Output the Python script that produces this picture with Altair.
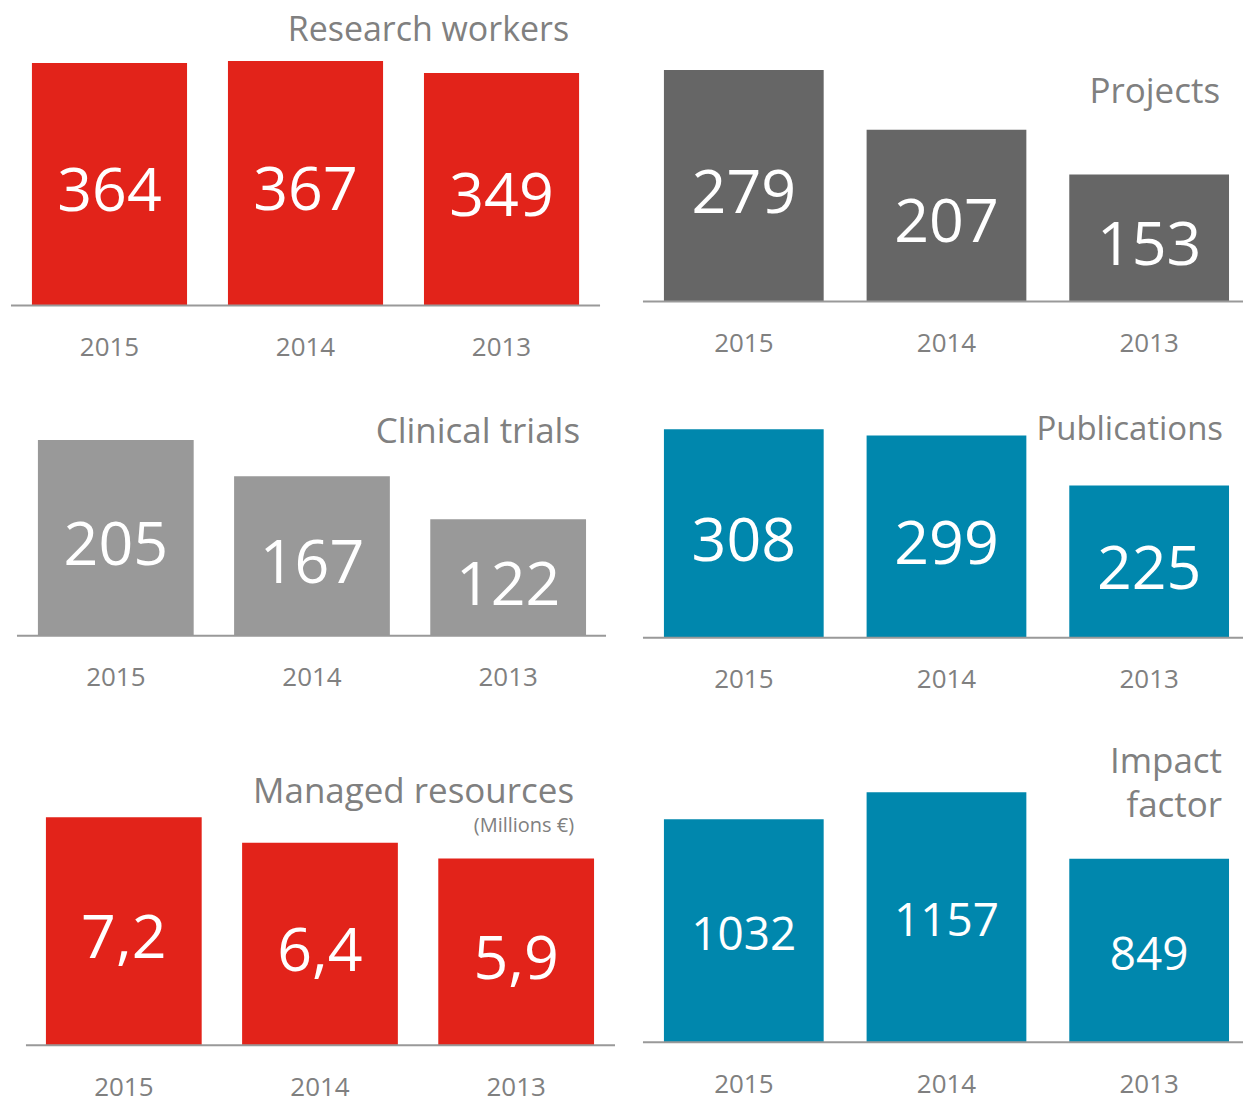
import altair as alt
import pandas as pd

# ---------------- data ----------------
years = ["2015", "2014", "2013"]

research_workers = [364, 367, 349]
projects = [279, 207, 153]
clinical_trials = [205, 167, 122]
publications = [308, 299, 225]
managed_resources = [7.2, 6.4, 5.9]
managed_labels = ["7,2", "6,4", "5,9"]
impact_factor = [1032, 1157, 849]
impact_labels = ["1032", "1157", "849"]

titles = [
    "Research workers",
    "Projects",
    "Clinical trials",
    "Publications",
    "Managed resources",
    "Impact\nfactor",
]
subtitle_managed = "(Millions €)"

# ---------------- styles ----------------
FONT = "Open Sans"
GRAY_TXT = "#808080"
RED = "#E2231A"
DARK = "#666666"
LIGHT = "#999999"
TEAL = "#0087AD"


def panel(values, labels, color, title, layout, subtitle=None):
    df = pd.DataFrame({"year": years, "value": values, "label": labels})
    xenc = alt.X(
        "year:N",
        sort=years,
        scale=alt.Scale(
            paddingInner=layout["pi"], paddingOuter=layout["po"], align=layout["al"]
        ),
        axis=alt.Axis(
            title=None,
            ticks=False,
            tickSize=0,
            domain=False,
            labelAngle=0,
            labelFont=FONT,
            labelFontSize=26,
            labelColor=GRAY_TXT,
            labelPadding=29,
            grid=False,
        ),
    )
    yscale = alt.Scale(domain=[0, layout["D"]], nice=False, zero=True)
    base = alt.Chart(df).encode(x=xenc)
    bars = base.mark_bar(color=color).encode(
        y=alt.Y("value:Q", scale=yscale, axis=None)
    )
    txt = (
        base.transform_calculate(mid="datum.value / 2")
        .mark_text(
            color="white",
            font=FONT,
            fontSize=layout["fs"],
            baseline="alphabetic",
            dy=layout["dy"],
        )
        .encode(y=alt.Y("mid:Q", scale=yscale, axis=None), text="label:N")
    )
    baseline = (
        alt.Chart(pd.DataFrame({"z": [0]}))
        .mark_rule(color="#999999", strokeWidth=2)
        .encode(
            x=alt.value(layout.get("x0", 0)),
            x2=alt.value(layout["W"]),
            y=alt.Y("z:Q", scale=yscale, axis=None),
        )
    )
    layers = [bars, baseline, txt]
    tdf = pd.DataFrame({"t": [title]})
    layers.append(
        alt.Chart(tdf)
        .mark_text(
            align="right",
            baseline="alphabetic",
            font=FONT,
            fontSize=layout.get("tfs", 35),
            color=GRAY_TXT,
            lineBreak="\n",
            lineHeight=44,
        )
        .encode(x=alt.value(layout["tx"]), y=alt.value(layout["ty"]), text="t:N")
    )
    if subtitle is not None:
        sdf = pd.DataFrame({"t": [subtitle]})
        layers.append(
            alt.Chart(sdf)
            .mark_text(
                align="right",
                baseline="alphabetic",
                font=FONT,
                fontSize=20,
                color=GRAY_TXT,
            )
            .encode(x=alt.value(layout["sx"]), y=alt.value(layout["sy"]), text="t:N")
        )
    return alt.layer(*layers).properties(width=layout["W"], height=layout["H"])


RIGHT = dict(W=601, pi=0.2118, po=0.0862, al=0.6)

p1 = panel(research_workers, [str(v) for v in research_workers], RED, titles[0],
           dict(W=590, H=297, pi=0.2087, po=0.1069, al=0.5, D=445.3,
                fs=61, dy=27, tx=559, ty=32, tfs=34))
p2 = panel(projects, [str(v) for v in projects], DARK, titles[1],
           dict(RIGHT, H=293, D=352.6, fs=61, dy=27, tx=578, ty=94))
p3 = panel(clinical_trials, [str(v) for v in clinical_trials], LIGHT, titles[2],
           dict(W=596, H=236, pi=0.206, po=0.1196, al=0.574, D=246.6,
                fs=61, dy=27, tx=570, ty=43, x0=6))
p4 = panel(publications, [str(v) for v in publications], TEAL, titles[3],
           dict(RIGHT, H=238, D=351.0, fs=61, dy=27, tx=581, ty=40, tfs=33))
p5 = panel(managed_resources, managed_labels, RED, titles[4],
           dict(W=605, H=313, pi=0.206, po=0.1425, al=0.625, D=9.874,
                fs=61, dy=27, tx=564, ty=70, sx=564, sy=99, x0=15),
           subtitle=subtitle_managed)
p6 = panel(impact_factor, impact_labels, TEAL, titles[5],
           dict(RIGHT, H=310, D=1433.2, fs=46, dy=19, tx=580, ty=40))

chart = (
    alt.concat(
        p1, p2, p3, p4, p5, p6,
        columns=2,
        spacing={"row": 95, "column": 28},
        bounds="flush",
        align="each",
    )
    .properties(padding={"left": 10, "top": 8, "right": 0, "bottom": 0},
                background="white")
    .configure_view(stroke=None)
)

chart.save("out.html", embed_options={"renderer": "svg", "actions": False})
